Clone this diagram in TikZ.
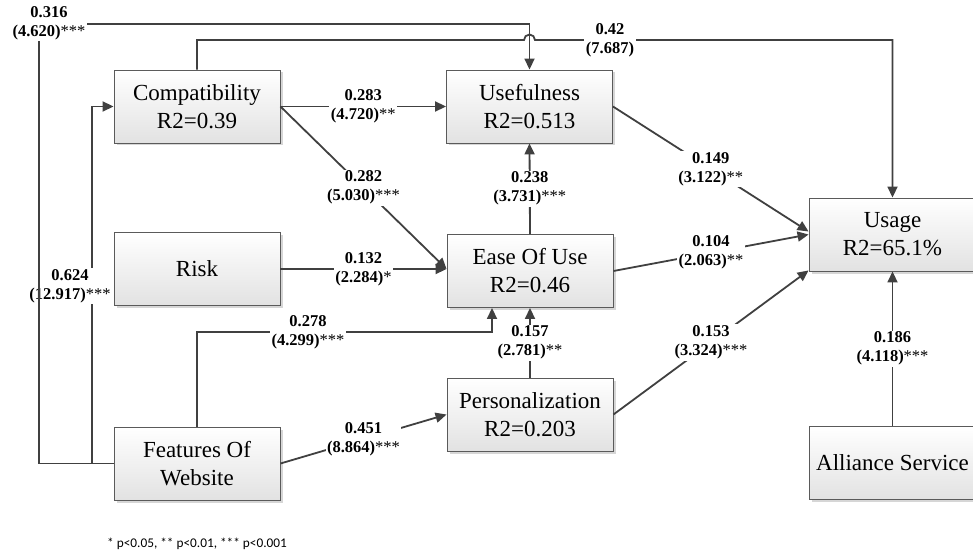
\documentclass[tikz,border=0pt]{standalone}
\usepackage{fontspec}
\setmainfont{Liberation Serif}
\newfontfamily\notefont{Carlito}
\usetikzlibrary{arrows.meta,shadows,calc}
\definecolor{linkc}{HTML}{404040}
\definecolor{boxline}{HTML}{5A5A5A}
\definecolor{boxbottom}{HTML}{E2E2E2}
\newcommand\sig[1]{{\mdseries#1}}
\begin{document}
\begin{tikzpicture}[x=1pt,y=-1pt,
  box/.style={draw=boxline, line width=0.9pt, top color=white, bottom color=boxbottom,
    minimum width=166pt, minimum height=73pt, inner sep=0pt, align=center,
    font=\fontsize{23}{28}\selectfont,
    drop shadow={shadow xshift=2.5pt, shadow yshift=-2.5pt, fill=black!16, opacity=1}},
  link/.style={draw=linkc, line width=1.8pt},
  arr/.style={link, -{Triangle[length=11pt,width=10pt]}},
  lbl/.style={fill=white, inner sep=1.5pt, align=center,
    font=\fontsize{16.5}{19}\selectfont\bfseries},
]
\useasboundingbox (0,0) rectangle (973,553);

% constructs
\node[box] (c) at (197,106.5) {Compatibility\\R2=0.39};
\node[box] (u) at (529.5,106.5) {Usefulness\\R2=0.513};
\node[box] (r) at (197,269) {Risk};
\node[box] (e) at (530,271) {Ease Of Use\\R2=0.46};
\node[box] (p) at (530,414.5) {Personalization\\R2=0.203};
\node[box] (f) at (197,463.5) {Features Of\\Website};
\node[box, minimum width=167pt] (g) at (892.5,234.5) {Usage\\R2=65.1\%};
\node[box, minimum width=167pt] (a) at (892.5,463) {Alliance Service};

% routing points
\coordinate (k1) at (39,24);
\coordinate (k2) at (92,463.5);
\coordinate (k3) at (492,332);
\coordinate (hopL) at (524,40);
\coordinate (hopR) at (535,40);

% Features -> Compatibility
\draw[arr] (k2) |- (c.west);
\node[lbl] (l624) at (70,286) {0.624\\(12.917)\sig{***}};

% Features -> Usefulness
\draw[arr] (f.west) -| (k1) -| (u.north);
\node[lbl] (l316) at (49,23) {0.316\\(4.620)\sig{***}};

% Compatibility -> Usage, hopping over the line above
\draw[arr] (c.north) |- (hopL) arc[start angle=180, end angle=360, radius=5.5]
  -- (g.north |- hopR) -- (g.north);
\node[lbl] (l42) at (610,40) {0.42\\(7.687)};

% Compatibility -> Usefulness / Ease Of Use
\draw[arr] (c.east) -- node[lbl] (l283) {0.283\\(4.720)\sig{**}} (c.east -| u.west);
\draw[arr] (c.east) -- node[lbl] (l282) {0.282\\(5.030)\sig{***}} (r.east -| e.west);

% Risk -> Ease Of Use
\draw[arr] (r.east) -- node[lbl] (l132) {0.132\\(2.284)\sig{*}} (r.east -| e.west);

% Ease Of Use -> Usefulness
\draw[arr] (e.north) -- node[lbl] (l238) {0.238\\(3.731)\sig{***}} (u.south);

% Features -> Ease Of Use
\draw[arr] (f.north) |- (k3) -- (k3 |- e.south);
\node[lbl] (l278) at (308,332) {0.278\\(4.299)\sig{***}};

% Personalization -> Ease Of Use
\draw[arr] (p.north) -- node[lbl] (l157) {0.157\\(2.781)\sig{**}} (e.south);

% Features -> Personalization
\draw[arr] (f.east) -- node[lbl] (l451) {0.451\\(8.864)\sig{***}} (p.west);

% paths into Usage
\draw[arr] (u.east) -- node[lbl] (l149) {0.149\\(3.122)\sig{**}} ($(g.west)+(0,-3)$);
\draw[arr] (e.east) -- node[lbl] (l104) {0.104\\(2.063)\sig{**}} (g.west);
\draw[arr] (p.east) -- node[lbl] (l153) {0.153\\(3.324)\sig{***}} ($(g.south west)+(0,-1)$);
\draw[arr] (a.north) -- node[lbl] (l186) {0.186\\(4.118)\sig{***}} (g.south);

% significance note
\node[anchor=west, inner sep=0pt, font=\notefont\fontsize{13.3}{15}\selectfont] (note)
  at (107,544) {* p<0.05, ** p<0.01, *** p<0.001};
\end{tikzpicture}
\end{document}
